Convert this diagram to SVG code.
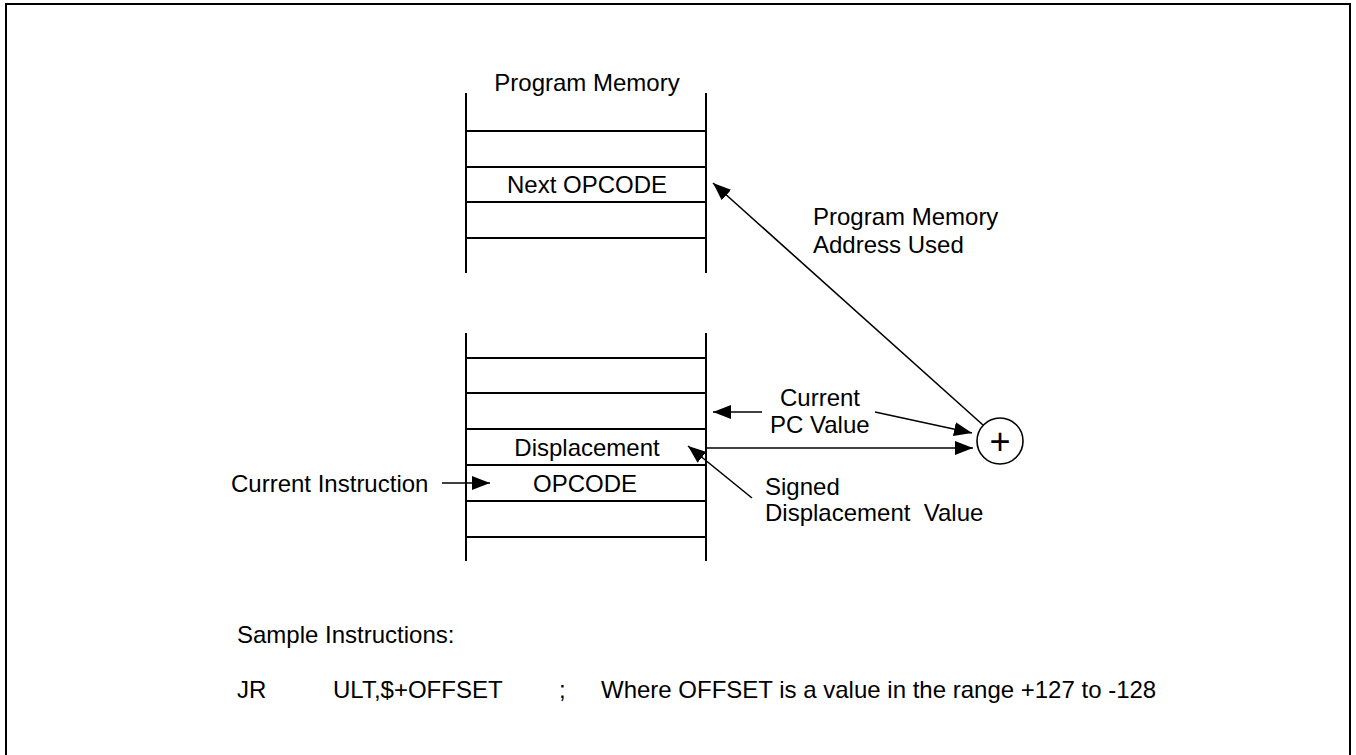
<svg xmlns="http://www.w3.org/2000/svg" width="1356" height="755" viewBox="0 0 1356 755">
<defs>
<marker id="ah" viewBox="0 0 18 14" refX="18" refY="7" markerWidth="18" markerHeight="14" markerUnits="userSpaceOnUse" orient="auto">
<path d="M0,0 L18,7 L0,14 Z" fill="#000"/>
</marker>
<style>
text{font-family:"Liberation Sans",Arial,sans-serif;font-size:24px;fill:#000}
.mem line{stroke:#000;stroke-width:2}
.conn line{stroke:#000;stroke-width:1.6;marker-end:url(#ah)}
.mid{text-anchor:middle}
</style>
</defs>
<rect width="1356" height="755" fill="#fff"/>
<rect x="6" y="4" width="1344" height="800" fill="none" stroke="#000" stroke-width="2"/>

<g id="program-memory-top" class="mem">
<line x1="466" y1="93" x2="466" y2="273"/>
<line x1="706" y1="93" x2="706" y2="273"/>
<line x1="466" y1="131" x2="706" y2="131"/>
<line x1="466" y1="167" x2="706" y2="167"/>
<line x1="466" y1="202" x2="706" y2="202"/>
<line x1="466" y1="238" x2="706" y2="238"/>
<text class="mid" x="587" y="91">Program Memory</text>
<text class="mid" x="587" y="193">Next OPCODE</text>
</g>

<g id="program-memory-bottom" class="mem">
<line x1="466" y1="333" x2="466" y2="561"/>
<line x1="706" y1="333" x2="706" y2="561"/>
<line x1="466" y1="358" x2="706" y2="358"/>
<line x1="466" y1="393" x2="706" y2="393"/>
<line x1="466" y1="429" x2="706" y2="429"/>
<line x1="466" y1="465" x2="706" y2="465"/>
<line x1="466" y1="501" x2="706" y2="501"/>
<line x1="466" y1="537" x2="706" y2="537"/>
<text class="mid" x="587" y="456">Displacement</text>
<text class="mid" x="585" y="492">OPCODE</text>
</g>

<g id="adder">
<circle cx="1000" cy="441" r="23" fill="none" stroke="#000" stroke-width="1.6"/>
<text class="mid" x="1000" y="454" style="font-size:36px">+</text>
</g>

<g id="labels">
<text x="231" y="492">Current Instruction</text>
<text x="780" y="406">Current</text>
<text x="770" y="433">PC Value</text>
<text x="813" y="225">Program Memory</text>
<text x="813" y="253">Address Used</text>
<text x="765" y="495">Signed</text>
<text x="765" y="521" xml:space="preserve">Displacement  Value</text>
<text x="237" y="643">Sample Instructions:</text>
<text x="237" y="698">JR</text>
<text x="333" y="698">ULT,$+OFFSET</text>
<text x="559" y="698">;</text>
<text x="601" y="698">Where OFFSET is a value in the range +127 to -128</text>
</g>

<g id="connectors" class="conn">
<line x1="442" y1="483" x2="490" y2="483"/>
<line x1="762" y1="412" x2="713" y2="412"/>
<line x1="706" y1="448" x2="973" y2="448"/>
<line x1="875" y1="412" x2="972" y2="433"/>
<line x1="752" y1="498" x2="688" y2="446"/>
<line x1="983" y1="425" x2="713" y2="183"/>
</g>
</svg>
